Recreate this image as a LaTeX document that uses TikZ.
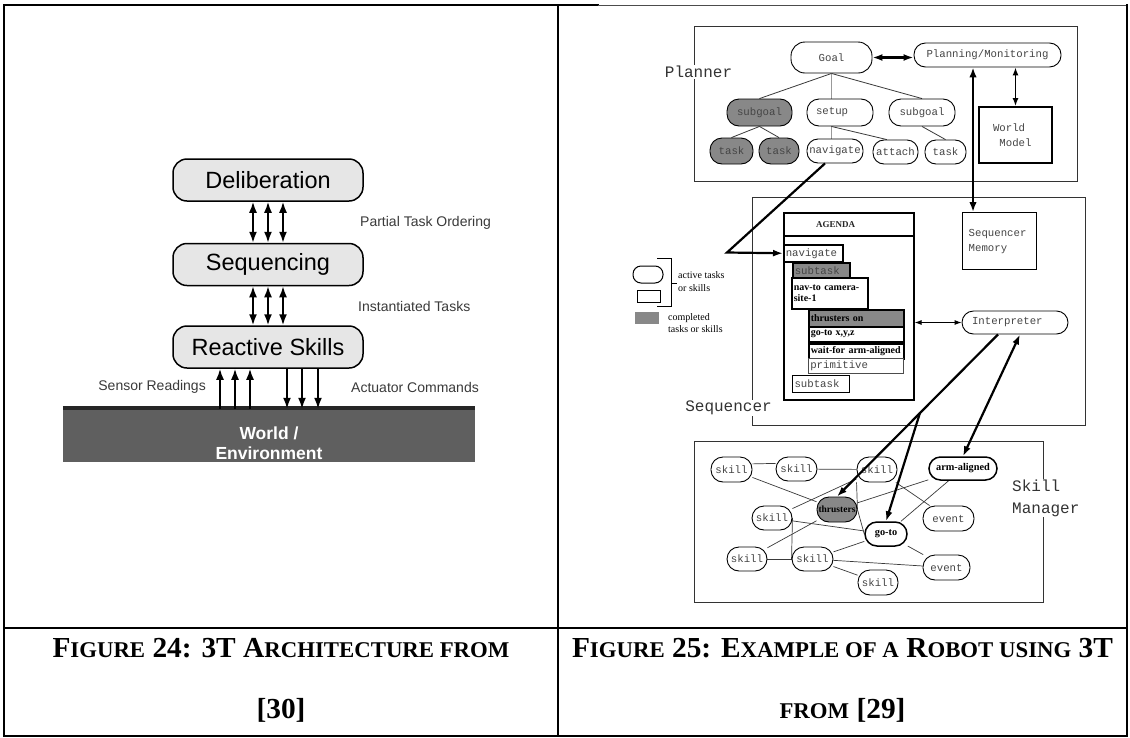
\documentclass[tikz,border=0pt]{standalone}
\usepackage{fontspec}
\setmainfont{Liberation Serif}
\newfontfamily\monofam{Liberation Mono}
\newfontfamily\sansfam{Liberation Sans}
\usetikzlibrary{arrows.meta,calc,backgrounds}

\definecolor{layerfill}{HTML}{E6E6E6}
\definecolor{worldfill}{HTML}{5F5F5F}
\definecolor{donefill}{HTML}{888888}
\definecolor{monotxt}{HTML}{454545}
\definecolor{sanstxt}{HTML}{3A3A3A}
\definecolor{edgecol}{HTML}{3A3A3A}

% caption lettering: bold capitals with reduced-size capitals for lower case
\newcommand\capsmall[1]{{\fontsize{22.5}{22.5}\selectfont\MakeUppercase{#1}}}
\newcommand\capfont{\bfseries\fontsize{29}{29}\selectfont}
\newsavebox\capmeasure

\tikzset{
  layer/.style={draw, line width=1.5pt, fill=layerfill, rounded corners=14pt,
    minimum width=190pt, minimum height=42pt, inner sep=0pt,
    font=\sansfam\fontsize{23.5}{24}\selectfont},
  sidelabel/.style={font=\sansfam\fontsize{14}{14}\selectfont, text=sanstxt, inner sep=0pt},
  biarrow/.style={line width=1.8pt, {Latex[length=11pt,width=8pt]}-{Latex[length=11pt,width=8pt]}},
  uparrow/.style={line width=1.8pt, -{Latex[length=11pt,width=8pt]}},
  pill/.style={draw, line width=0.9pt, rounded corners=#1, inner sep=0pt, fill=white,
    font=\monofam\fontsize{10.7}{11}\selectfont, text=monotxt},
  pill/.default=12pt,
  done/.style={fill=donefill},
  boldlbl/.style={font=\bfseries\fontsize{10.3}{11}\selectfont, text=black},
  region/.style={draw=black!80, line width=0.9pt},
  regionlabel/.style={font=\monofam\fontsize{16}{17}\selectfont, text=black!80, fill=white, inner sep=1pt},
  agbox/.style={draw, line width=1.5pt, anchor=north west, inner xsep=2pt, inner ysep=0pt,
    align=left, fill=white},
  agmono/.style={font=\monofam\fontsize{10.7}{11}\selectfont, text=monotxt},
  agbold/.style={font=\bfseries\fontsize{10}{10.5}\selectfont},
  treeedge/.style={draw=edgecol, line width=0.8pt},
  bigarrow/.style={line width=2.2pt, -{Latex[length=10pt,width=7pt]}},
  bigbiarrow/.style={line width=2.2pt, {Latex[length=10pt,width=7pt]}-{Latex[length=10pt,width=7pt]}},
  sedge/.style={draw=edgecol, line width=0.7pt},
  legendtxt/.style={font=\fontsize{10}{12.5}\selectfont, align=left, inner sep=0pt, anchor=west},
  tableline/.style={line width=2pt, line cap=rect},
}

\begin{document}
% caption width measured once, so both captions share one horizontal scale
\sbox\capmeasure{\capfont F\capsmall{igure} 24: 3T A\capsmall{rchitecture from}}%
\pgfmathsetmacro\capsx{457/\the\wd\capmeasure}%
\begin{tikzpicture}[x=1pt,y=-1pt]
\useasboundingbox (0,0) rectangle (1130,737);
\begin{scope}[on background layer]
  \fill[white] (0,0) rectangle (1130,737);
\end{scope}

% ---------- table frame ----------
\draw[tableline] (4,5) -- (598,5);
\draw[line width=0.8pt, black!70] (598,5) -- (1127,5);
\draw[tableline] (4,5) -- (4,736) -- (1127,736) -- (1127,5);
\draw[tableline] (558,5) -- (558,736);
\draw[tableline] (4,628) -- (1127,628);

% ---------- 3T layers ----------
\node[layer] (delib) at (268,180) {Deliberation};
\node[layer] (seqn) at (268,264.5) {Sequencing};
\node[layer] (react) at (268,347) {Reactive Skills};
\foreach \dx in {-15,0,15} {
  \draw[biarrow] ($(delib.south)+(\dx,0)$) -- ($(seqn.north)+(\dx,0)$);
  \draw[biarrow] ($(seqn.south)+(\dx,0)$) -- ($(react.north)+(\dx,0)$);
}
\node[sidelabel, anchor=west] (lblpto) at (360,223) {Partial Task Ordering};
\node[sidelabel, anchor=west] (lblit) at (358,306) {Instantiated Tasks};

\node[fill=worldfill, minimum width=412pt, minimum height=54pt, inner sep=0pt] (world) at (269,435) {};
\draw[line width=4pt, black!85] (world.north west) -- (world.north east);
\node[font=\sansfam\bfseries\fontsize{17.5}{20}\selectfont, text=white, align=center] (worldtxt) at (269,443) {World /\\Environment};

\foreach \dx in {-48,-33,-18}
  \draw[uparrow] ($(react.south)+(\dx,40)$) -- ($(react.south)+(\dx,0)$);
\foreach \dx in {19,34,50}
  \draw[uparrow] ($(react.south)+(\dx,0)$) -- ($(react.south)+(\dx,40)$);
\node[sidelabel, anchor=east] (lblsens) at (206,387) {Sensor Readings};
\node[sidelabel, anchor=west] (lblact) at (351,387) {Actuator Commands};

% ---------- Planner ----------
\draw[region] (694,26) rectangle (1077,181);
\node[regionlabel] (plannerlbl) at (698.5,72) {Planner};
\node[pill=14pt, minimum width=81pt, minimum height=31pt] (goal) at (831.5,57.5) {Goal};
\node[pill=11.5pt, minimum width=147pt, minimum height=24pt] (plan) at (987.5,55) {Planning/Monitoring};
\node[pill=12pt, done, minimum width=65pt, minimum height=27pt] (sg1) at (759.5,112.5) {subgoal};
\node[pill=12pt, minimum height=27pt, text width=48pt, inner xsep=9pt, align=left] (setup) at (840,112.5) {setup};
\node[pill=12pt, minimum width=66pt, minimum height=27pt] (sg2) at (922,112.5) {subgoal};
\node[pill=12pt, done, minimum width=43pt, minimum height=26pt] (t1) at (731.5,151) {task};
\node[pill=12pt, done, minimum width=40pt, minimum height=26pt] (t2) at (779,151) {task};
\node[pill=11pt, minimum width=56pt, minimum height=24pt] (nav) at (835,151) {navigate};
\node[pill=11pt, minimum width=45pt, minimum height=24pt] (attach) at (895.5,152) {attach};
\node[pill=11pt, minimum width=41pt, minimum height=24pt] (t3) at (945.5,152) {task};
\node[draw, line width=2pt, minimum height=56pt, text width=45pt, inner xsep=14pt, inner ysep=0pt,
  align=left, font=\monofam\fontsize{10.7}{15}\selectfont, text=monotxt] (wm) at (1015.5,135)
  {World\\\hspace*{6.4pt}Model};

\begin{scope}[on background layer]
  \draw[treeedge] (goal.south) -- (sg1.north);
  \draw[treeedge, draw=black!40] (goal.south) -- (goal.south |- setup.north);
  \draw[treeedge] (goal.south) -- (sg2.north);
  \draw[treeedge] (sg1.south) -- (t1.north);
  \draw[treeedge] (sg1.south) -- (t2.north);
  \draw[treeedge, draw=black!40] (goal.south |- setup.south) -- (goal.south |- nav.north);
  \draw[treeedge] (goal.south |- setup.south) -- (attach.125);
  \draw[treeedge] (sg2.south) -- (t3.north);
\end{scope}

\draw[bigbiarrow] (goal.east) -- (goal.east -| plan.west);
\draw[line width=1.3pt, {Latex[length=8pt,width=6pt]}-{Latex[length=8pt,width=6pt]}]
  (plan.south -| wm.north) -- (wm.north);

% ---------- Sequencer ----------
\draw[region] (752,197) rectangle (1085,425);
\node[regionlabel] (seqlbl) at (728.5,408) {Sequencer};
\node[draw, line width=1.6pt, minimum width=130pt, minimum height=187pt, anchor=north west,
  inner sep=0pt] (agenda) at (783,212) {};
\draw[line width=1.6pt] ($(agenda.north west)+(0,24)$) -- ($(agenda.north east)+(0,24)$);
\node[font=\bfseries\fontsize{9}{9}\selectfont, text=black!85] (agendatitle) at (835.5,225) {AGENDA};

\node[agbox, agmono, text width=55pt, minimum height=17pt] (anav) at (783,244) {navigate};
\node[agbox, agmono, done, text width=53pt, minimum height=15pt] (asub1) at (792,262) {subtask};
\node[agbox, agbold, text width=72pt, minimum height=31pt] (anavto) at (791,277) {nav-to camera-\\site-1};
\node[agbox, agbold, done, text width=91pt, minimum height=17pt] (athr) at (808,309) {thrusters on};
\node[agbox, agbold, text width=91pt, minimum height=15pt] (agoto) at (808,326) {go-to x,y,z};
\node[agbox, agbold, text width=91pt, minimum height=15pt] (await) at (808,343) {wait-for arm-aligned};
\node[agbox, agmono, line width=0.6pt, draw=black!70, text width=91pt, minimum height=15pt] (aprim) at (808,358) {primitive};
\node[agbox, agmono, line width=1pt, text width=53pt, minimum height=17pt] (asub2) at (792,375) {subtask};

\node[draw, line width=1.4pt, anchor=north west, minimum height=57pt, text width=62pt,
  inner xsep=6pt, inner ysep=0pt, align=left, font=\monofam\fontsize{10.7}{15}\selectfont,
  text=monotxt] (smem) at (962,212) {Sequencer\\Memory};
\node[pill=11.5pt, minimum height=23pt, text width=86pt, inner xsep=10pt, align=left] (interp) at (1015,322.5) {Interpreter};
\draw[line width=0.9pt, {Latex[length=7pt,width=5pt]}-{Latex[length=7pt,width=5pt]}]
  (agenda.east |- interp.west) -- (interp.west);

% legend
\node[draw, line width=1pt, rounded corners=8pt, minimum width=30pt, minimum height=17pt, inner sep=0pt] (lgpill) at (648,274.5) {};
\node[draw, line width=1pt, minimum width=23pt, minimum height=12pt, inner sep=0pt] (lgrect) at (648.5,296) {};
\node[fill=donefill, minimum width=24pt, minimum height=12pt, inner sep=0pt] (lggray) at (647,318) {};
\coordinate (brtop) at (657,258);
\coordinate (brbot) at (657,306);
\draw[line width=0.8pt] (brtop) -- ++(14,0) -- ++(0,48) -- (brbot);
\draw[line width=0.8pt] ($(brtop)+(14,25)$) -- ++(6,0);
\node[legendtxt] (lgact) at (678,281.5) {active tasks\\or skills};
\node[legendtxt] (lgdone) at (668,323) {completed\\tasks or skills};

% ---------- Skill Manager ----------
\draw[region] (694,441) rectangle (1043,602);
\node[regionlabel, align=left, anchor=west, font=\monofam\fontsize{16}{22}\selectfont] (smlbl) at (1011,498) {Skill\\Manager};

\node[pill=12pt, minimum width=41pt, minimum height=25pt] (sA) at (731.5,469.5) {skill};
\node[pill=12pt, minimum width=41pt, minimum height=24pt] (sB) at (796.5,469) {skill};
\node[pill=12pt, minimum width=40pt, minimum height=25pt] (sC) at (877,469.5) {skill};
\node[pill=12pt, minimum width=40pt, minimum height=24pt] (sD) at (772,518) {skill};
\node[pill=12pt, minimum width=40pt, minimum height=24pt] (sE) at (747,559) {skill};
\node[pill=12pt, minimum width=41pt, minimum height=24pt] (sF) at (812.5,559) {skill};
\node[pill=12pt, minimum width=40pt, minimum height=25pt] (sG) at (878,582.5) {skill};
\node[pill=12pt, done, boldlbl, minimum width=40pt, minimum height=25pt, font=\bfseries\fontsize{9.5}{10}\selectfont] (thr) at (837,509.5) {thrusters};
\node[pill=12pt, boldlbl, line width=1.5pt, minimum width=42pt, minimum height=24pt] (sgoto) at (886,534) {go-to};
\node[pill=11.5pt, boldlbl, line width=1.5pt, minimum width=68pt, minimum height=23pt] (arm) at (963,468.5) {arm-aligned};
\node[pill=12pt, minimum width=51pt, minimum height=25pt] (ev1) at (948.5,518.5) {event};
\node[pill=12pt, minimum width=47pt, minimum height=25pt] (ev2) at (946.5,567.5) {event};

\begin{scope}[on background layer]
  \draw[sedge] (sA.15) -- (sB.165);
  \draw[sedge] (sA) -- (thr);
  \draw[sedge] (sB) -- (sC);
  \draw[sedge] (sC.south west) -- (thr.east);
  \draw[sedge] (thr.east) -- (sgoto.west);
  \draw[sedge] (sD) -- (sgoto);
  \draw[sedge] (sD.east) -- (sF.west);
  \draw[sedge] (sE) -- (sF);
  \draw[sedge] (sD) -- (sC);
  \draw[sedge] (sE) -- (thr);
  \draw[sedge] (sF) -- (sgoto);
  \draw[sedge] (sF) -- (ev2);
  \draw[sedge] (sF) -- (sG);
  \draw[sedge] (thr) -- (arm);
  \draw[sedge] (sgoto) -- (arm);
  \draw[sedge] (sgoto) -- (ev2);
  \draw[sedge] (sC) -- (ev1);
\end{scope}

% ---------- links between layers ----------
\coordinate (navbend) at (727,252.5);
\draw[bigarrow] ($(nav.south)+(-10,0)$) -- (navbend) -- (anav.west);
\coordinate (smemtop) at ($(smem.north west)+(11,0)$);
\draw[line width=2.6pt, {Latex[length=10pt,width=7.5pt]}-{Latex[length=10pt,width=7.5pt]}]
  (plan.south -| smemtop) -- (smemtop);
\coordinate (ifoot) at ($(interp.south)+(-17,0)$);
\draw[bigarrow] (ifoot) -- (thr.north);
\coordinate (fork) at ($(ifoot)!0.485!(thr.north)$);
\draw[bigarrow] (fork) -- (sgoto.north);
\draw[bigbiarrow] (arm.north) -- ($(interp.south)+(5,0)$);

% ---------- captions ----------
\node[anchor=base, inner sep=0pt] (cap1a) at (281,657) {\scalebox{\capsx}[1]{\usebox\capmeasure}};
\node[anchor=base, inner sep=0pt] (cap1b) at (281,718) {\scalebox{\capsx}[1]{\capfont [30]}};
\node[anchor=base, inner sep=0pt] (cap2a) at (842.5,657) {\scalebox{\capsx}[1]{\capfont F\capsmall{igure} 25: E\capsmall{xample of a} R\capsmall{obot using} 3T}};
\node[anchor=base, inner sep=0pt] (cap2b) at (842.5,718) {\scalebox{\capsx}[1]{\capfont\capsmall{from} [29]}};
\end{tikzpicture}
\end{document}
